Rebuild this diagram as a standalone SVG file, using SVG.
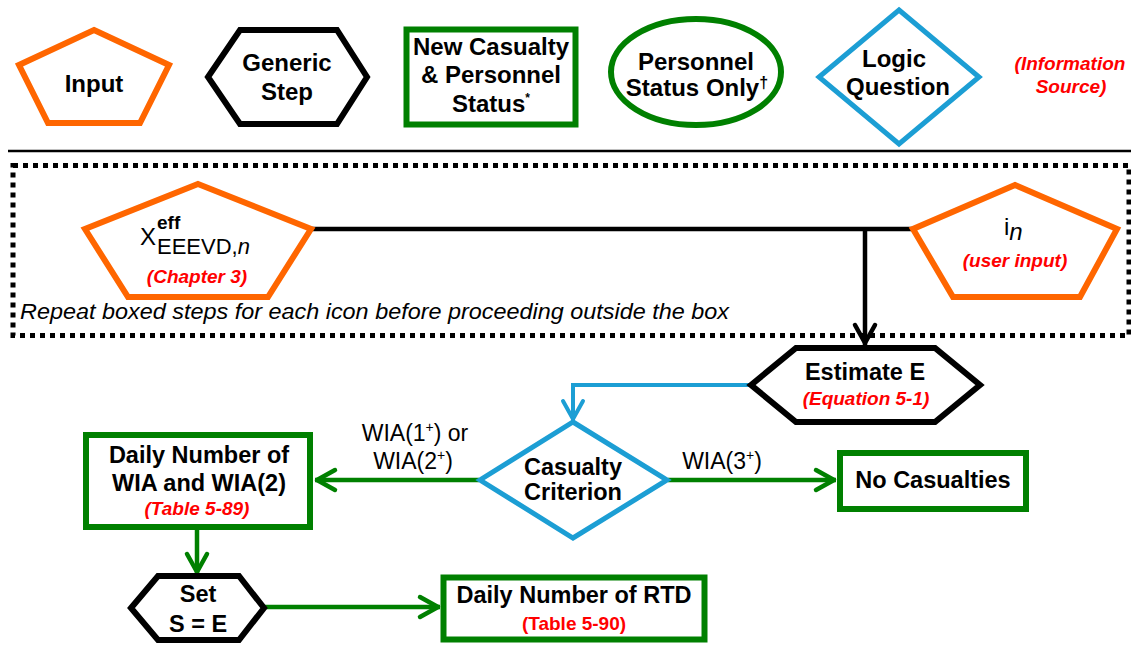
<svg xmlns="http://www.w3.org/2000/svg" width="1131" height="652" viewBox="0 0 1131 652">
<defs>
<style>
.or{fill:#fff;stroke:#FF6600;stroke-width:6;stroke-linejoin:miter}
.hx{fill:#fff;stroke:#000;stroke-width:6;stroke-linejoin:miter}
.gr{fill:#fff;stroke:#008000;stroke-width:6}
.bl{fill:#fff;stroke:#1C9ED4;stroke-width:5;stroke-linejoin:miter}
.t{font-family:"Liberation Sans",Arial,sans-serif;font-weight:bold;font-size:23.5px;fill:#000;text-anchor:middle}
.lg{font-size:24px}
.w{font-family:"Liberation Sans",Arial,sans-serif;font-size:23px;fill:#000;text-anchor:middle}
.r{font-family:"Liberation Sans",Arial,sans-serif;font-weight:bold;font-style:italic;font-size:19px;fill:#FF0000;text-anchor:middle}
.up{font-style:normal}
.note{font-family:"Liberation Sans",Arial,sans-serif;font-style:italic;font-size:22px;fill:#000}
.cb{fill:none;stroke:#000;stroke-width:4.5}
.cg{fill:none;stroke:#008000;stroke-width:4.5}
.cu{fill:none;stroke:#1C9ED4;stroke-width:4}
</style>
<marker id="aK" markerUnits="userSpaceOnUse" markerWidth="30" markerHeight="30" viewBox="-25 -15 30 30" refX="0" refY="0" orient="auto" overflow="visible">
<path d="M-20,-10 L-2,0 L-20,10" fill="none" stroke="#000" stroke-width="4.5" stroke-linecap="round" stroke-linejoin="round"/>
</marker>
<marker id="aG" markerUnits="userSpaceOnUse" markerWidth="30" markerHeight="30" viewBox="-25 -15 30 30" refX="0" refY="0" orient="auto" overflow="visible">
<path d="M-20,-10 L-2,0 L-20,10" fill="none" stroke="#008000" stroke-width="4.5" stroke-linecap="round" stroke-linejoin="round"/>
</marker>
<marker id="aB" markerUnits="userSpaceOnUse" markerWidth="30" markerHeight="30" viewBox="-25 -15 30 30" refX="0" refY="0" orient="auto" overflow="visible">
<path d="M-20,-10 L-2,0 L-20,10" fill="none" stroke="#1C9ED4" stroke-width="4" stroke-linecap="round" stroke-linejoin="round"/>
</marker>
</defs>
<rect width="1131" height="652" fill="#fff"/>

<!-- Legend -->
<g id="legend-input">
<polygon class="or" points="94,30 169,65 140,123 48,123 19,65"/>
<text class="t lg" x="94" y="92">Input</text>
</g>
<g id="legend-generic">
<polygon class="hx" points="208,77 240,30 337,30 367,77 337,124 240,124"/>
<text class="t lg" x="287" y="71">Generic</text>
<text class="t lg" x="287" y="100">Step</text>
</g>
<g id="legend-newcasualty">
<rect class="gr" x="406.5" y="29.5" width="169" height="95"/>
<text class="t lg" x="491" y="55">New Casualty</text>
<text class="t lg" x="491" y="83">&amp; Personnel</text>
<text class="t lg" x="491" y="112">Status<tspan font-size="12" dy="-10">*</tspan></text>
</g>
<g id="legend-personnel">
<ellipse class="gr" cx="696" cy="72" rx="85" ry="53"/>
<text class="t lg" x="696" y="70">Personnel</text>
<text class="t lg" x="697" y="96">Status Only<tspan font-size="16" dy="-8">†</tspan></text>
</g>
<g id="legend-logic">
<polygon class="bl" points="899,10 979,77 899,144 819,77"/>
<text class="t lg" x="894" y="67">Logic</text>
<text class="t lg" x="898" y="95">Question</text>
</g>
<g id="legend-source">
<text class="r" font-size="17.5" x="1070" y="70">(Information</text>
<text class="r" font-size="17.5" x="1071" y="93">Source)</text>
</g>

<line x1="8" y1="151" x2="1131" y2="151" stroke="#000" stroke-width="2.5"/>

<!-- Connectors -->
<g id="connectors">
<path class="cb" d="M312,229 H912"/>
<path class="cb" d="M865,229 V345" marker-end="url(#aK)"/>
<path class="cu" d="M750,385 H573 V421" marker-end="url(#aB)"/>
<path class="cg" d="M479,480 H315" marker-end="url(#aG)"/>
<path class="cg" d="M668,480 H836" marker-end="url(#aG)"/>
<path class="cg" d="M197,530 V574" marker-end="url(#aG)"/>
<path class="cg" d="M265,607 H440" marker-end="url(#aG)"/>
<text class="w" x="415" y="441">WIA(1<tspan font-size="14" dy="-9">+</tspan><tspan dy="9">) or</tspan></text>
<text class="w" x="413" y="469">WIA(2<tspan font-size="14" dy="-9">+</tspan><tspan dy="9">)</tspan></text>
<text class="w" x="722" y="469">WIA(3<tspan font-size="14" dy="-9">+</tspan><tspan dy="9">)</tspan></text>
</g>

<!-- Repeat box -->
<g id="repeat-box">
<rect x="13" y="165.5" width="1116" height="170" fill="none" stroke="#000" stroke-width="5" stroke-dasharray="5 5"/>
<text class="note" x="20" y="319" textLength="709" lengthAdjust="spacingAndGlyphs">Repeat boxed steps for each icon before proceeding outside the box</text>
</g>

<g id="node-xeff">
<polygon class="or" points="198,184 311,229 268,297 128,297 85,229"/>
<text font-family="Liberation Sans, Arial, sans-serif" font-size="24" x="140" y="245">X<tspan font-size="19" font-weight="bold" x="157" y="229">eff</tspan><tspan font-size="22" x="157" y="254">EEEVD,</tspan><tspan font-size="22" font-style="italic">n</tspan></text>
<text class="r" x="197" y="283">(Chapter  3)</text>
</g>

<g id="node-in">
<polygon class="or" points="1015,185 1117,229 1080,297 953,297 913,229"/>
<text font-family="Liberation Sans, Arial, sans-serif" font-size="24" x="1004" y="235">i<tspan font-style="italic" dy="5">n</tspan></text>
<text class="r" font-size="20" x="1015" y="267">(user input)</text>
</g>

<g id="node-estimate">
<polygon class="hx" points="751,385 796,348 935,348 980,385 935,422 796,422"/>
<text class="t" x="865" y="380">Estimate E</text>
<text class="r" x="866" y="405">(Equation  5-1)</text>
</g>

<g id="node-criterion">
<polygon class="bl" points="573,422 667,480 573,538 480,480"/>
<text class="t" font-size="24" x="573" y="475">Casualty</text>
<text class="t" font-size="24" x="573" y="500">Criterion</text>
</g>

<g id="node-dailywia">
<rect class="gr" x="86" y="435" width="224" height="92"/>
<text class="t" x="199" y="463">Daily Number of</text>
<text class="t" x="199" y="491">WIA  and WIA(2)</text>
<text class="r" x="197" y="515">(Table  5-89)</text>
</g>

<g id="node-nocasualties">
<rect class="gr" x="840" y="453" width="186" height="56"/>
<text class="t" font-size="24" x="933" y="488">No Casualties</text>
</g>

<g id="node-set">
<polygon class="hx" points="131,608 158,576 239,576 264,608 239,640 158,640"/>
<text class="t" x="198" y="602">Set</text>
<text class="t" x="198" y="632">S = E</text>
</g>

<g id="node-dailyrtd">
<rect class="gr" x="443.5" y="577.5" width="261" height="62"/>
<text class="t" x="574" y="603">Daily Number of RTD</text>
<text class="r up" x="574" y="630">(Table  5-90)</text>
</g>
</svg>
